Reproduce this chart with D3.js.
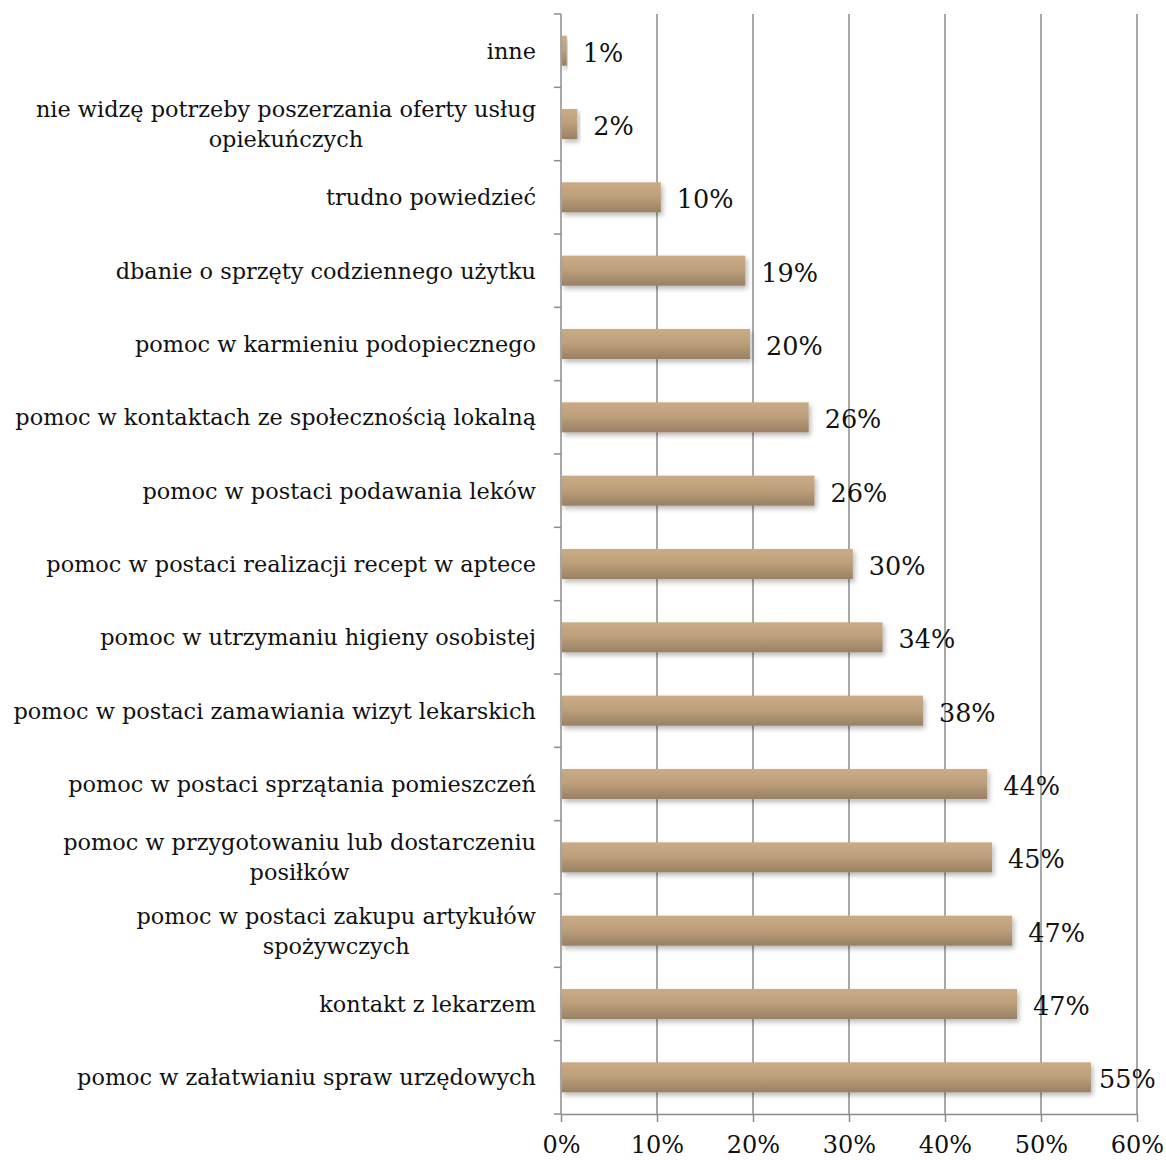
<!DOCTYPE html>
<html>
<head>
<meta charset="utf-8">
<script src="https://cdn.jsdelivr.net/npm/d3@7"></script>
<style>
  body { margin: 0; background: #fff; }
  text { font-family: "DejaVu Serif", "Liberation Serif", serif; fill: #111; }
</style>
</head>
<body>
<div id="chart"></div>
<script>
// categories, top to bottom ("\n" = line break as in the original chart)
var categories = [
  "inne",
  "nie widzę potrzeby poszerzania oferty usług\nopiekuńczych",
  "trudno powiedzieć",
  "dbanie o sprzęty codziennego użytku",
  "pomoc w karmieniu podopiecznego",
  "pomoc w kontaktach ze społecznością lokalną",
  "pomoc w postaci podawania leków",
  "pomoc w postaci realizacji recept w aptece",
  "pomoc w utrzymaniu higieny osobistej",
  "pomoc w postaci zamawiania wizyt lekarskich",
  "pomoc w postaci sprzątania pomieszczeń",
  "pomoc w przygotowaniu lub dostarczeniu\nposiłków",
  "pomoc w postaci zakupu artykułów\nspożywczych",
  "kontakt z lekarzem",
  "pomoc w załatwianiu spraw urzędowych"
];
var values = [0.6, 1.7, 10.4, 19.2, 19.7, 25.8, 26.4, 30.4, 33.5, 37.7, 44.4, 44.9, 47.0, 47.5, 55.2];
var valueLabels = ["1%", "2%", "10%", "19%", "20%", "26%", "26%", "30%", "34%", "38%", "44%", "45%", "47%", "47%", "55%"];
var xTicks = [0, 10, 20, 30, 40, 50, 60];

var width = 1166, height = 1160;
var plot = {left: 561, right: 1137, top: 14, bottom: 1114};

var svg = d3.select("#chart").append("svg")
  .attr("width", width)
  .attr("height", height);

var defs = svg.append("defs");
var grad = defs.append("linearGradient")
  .attr("id", "barGrad")
  .attr("x1", 0).attr("y1", 0).attr("x2", 0).attr("y2", 1);
grad.append("stop").attr("offset", "0%").attr("stop-color", "#c9ac86");
grad.append("stop").attr("offset", "45%").attr("stop-color", "#bea17c");
grad.append("stop").attr("offset", "100%").attr("stop-color", "#988063");

var shadow = defs.append("filter").attr("id", "shadow")
  .attr("x", "-10%").attr("y", "-30%").attr("width", "130%").attr("height", "190%");
shadow.append("feDropShadow")
  .attr("dx", 2).attr("dy", 3).attr("stdDeviation", 2.5)
  .attr("flood-color", "#000").attr("flood-opacity", 0.28);

var x = d3.scaleLinear().domain([0, 60]).range([plot.left, plot.right]);
var y = d3.scaleBand()
  .domain(categories)
  .range([plot.top, plot.bottom])
  .paddingInner(0.59)
  .paddingOuter(0.295);

// vertical gridlines
svg.append("g").selectAll("line")
  .data(xTicks.slice(1))
  .enter().append("line")
    .attr("x1", function(d) { return x(d); })
    .attr("x2", function(d) { return x(d); })
    .attr("y1", plot.top)
    .attr("y2", plot.bottom)
    .attr("stroke", "#8c8c8c")
    .attr("stroke-width", 1.5);

// bottom axis
var xAxis = svg.append("g")
  .attr("transform", "translate(0," + plot.bottom + ")")
  .call(d3.axisBottom(x).tickValues(xTicks).tickSize(8).tickSizeOuter(0)
    .tickFormat(function(d) { return d + "%"; }));
xAxis.select(".domain").attr("stroke", "#8c8c8c").attr("stroke-width", 1.5);
xAxis.selectAll(".tick line").attr("stroke", "#8c8c8c").attr("stroke-width", 1.5);
xAxis.selectAll(".tick text")
  .attr("y", 22).attr("dy", "0.71em")
  .style("font-size", "24px")
  .attr("fill", "#111");

// left axis: line + ticks at band boundaries
var step = y.step();
var leftAxis = svg.append("g");
leftAxis.append("line")
  .attr("x1", plot.left).attr("x2", plot.left)
  .attr("y1", plot.top).attr("y2", plot.bottom)
  .attr("stroke", "#8c8c8c").attr("stroke-width", 1.5);
leftAxis.selectAll("line.tk")
  .data(d3.range(categories.length + 1))
  .enter().append("line")
    .attr("class", "tk")
    .attr("x1", plot.left - 7).attr("x2", plot.left)
    .attr("y1", function(i) { return plot.top + i * step; })
    .attr("y2", function(i) { return plot.top + i * step; })
    .attr("stroke", "#8c8c8c").attr("stroke-width", 1.5);

// bars
svg.append("g").selectAll("rect")
  .data(categories)
  .enter().append("rect")
    .attr("x", x(0) + 1)
    .attr("y", function(d) { return y(d); })
    .attr("width", function(d, i) { return x(values[i]) - x(0) - 1; })
    .attr("height", y.bandwidth())
    .attr("fill", "url(#barGrad)")
    .attr("filter", "url(#shadow)");

// value labels
svg.append("g").selectAll("text")
  .data(categories)
  .enter().append("text")
    .attr("x", function(d, i) { return Math.min(x(values[i]) + 16, 1099); })
    .attr("y", function(d) { return y(d) + y.bandwidth() / 2 + 2; })
    .attr("dy", "0.35em")
    .style("font-size", "25.5px")
    .text(function(d, i) { return valueLabels[i]; });

// category labels (right aligned block, lines centred on each other)
var lineH = 30;
var catG = svg.append("g");
categories.forEach(function(c) {
  var lines = c.split("\n");
  var t = catG.append("text")
    .style("font-size", "22.4px")
    .attr("text-anchor", "middle");
  var cy = y(c) + y.bandwidth() / 2;
  lines.forEach(function(l, j) {
    t.append("tspan")
      .attr("y", cy + (j - (lines.length - 1) / 2) * lineH)
      .attr("dy", "0.35em")
      .text(l);
  });
  var maxW = 0;
  t.selectAll("tspan").each(function() {
    maxW = Math.max(maxW, this.getComputedTextLength());
  });
  t.selectAll("tspan").attr("x", 536 - maxW / 2);
});
</script>
</body>
</html>
